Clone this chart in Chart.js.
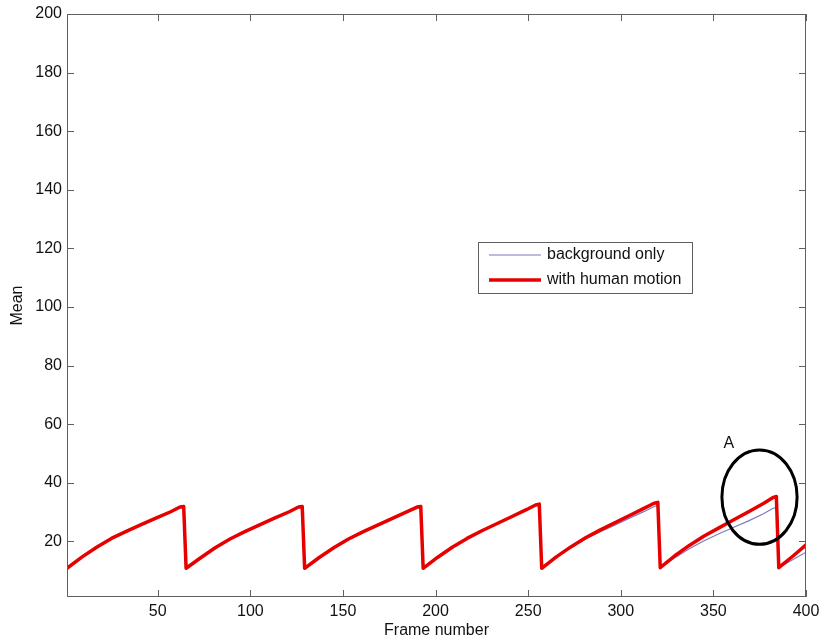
<!DOCTYPE html>
<html>
<head>
<meta charset="utf-8">
<script src="https://cdn.jsdelivr.net/npm/chart.js@4/dist/chart.umd.min.js"></script>
<style>
  html, body { margin: 0; padding: 0; background: #fff; }
  #wrap { width: 822px; height: 644px; }
</style>
</head>
<body>
<div id="wrap"><canvas id="chart" width="822" height="644"></canvas></div>
<script>
// ======== Data ========
const frames = [
  1, 9, 17, 25, 33, 41, 49, 57, 62, 64,
  65.3, 73, 81, 89, 97, 105, 113, 121, 126, 128,
  129.3, 137, 145, 153, 161, 169, 177, 185, 190, 192,
  193.3, 201, 209, 217, 225, 233, 241, 249, 254, 256,
  257.3, 265, 273, 281, 289, 297, 305, 313, 318, 320,
  321.3, 329, 337, 345, 353, 361, 369, 377, 382, 384,
  385.3, 393, 400
];
const backgroundOnly = [
  10.8, 14.6, 18.0, 21.0, 23.4, 25.7, 27.9, 30.1, 31.7, 31.9,
  10.8, 14.3, 17.8, 20.8, 23.3, 25.6, 27.9, 30.1, 31.7, 31.9,
  10.8, 14.4, 17.8, 20.8, 23.3, 25.6, 27.9, 30.2, 31.7, 31.9,
  10.8, 14.5, 18.0, 21.0, 23.6, 26.0, 28.4, 30.8, 32.4, 32.7,
  10.8, 14.5, 17.9, 20.8, 23.3, 25.6, 28.0, 30.3, 31.9, 32.2,
  11.0, 14.3, 17.5, 20.2, 22.6, 24.8, 27.0, 29.4, 31.2, 31.6,
  11.0, 13.8, 16.3
];
const withHumanMotion = [
  10.8, 14.6, 18.0, 21.0, 23.4, 25.7, 27.9, 30.1, 31.7, 31.9,
  10.8, 14.3, 17.8, 20.8, 23.3, 25.6, 27.9, 30.1, 31.7, 31.9,
  10.8, 14.4, 17.8, 20.8, 23.3, 25.6, 27.9, 30.2, 31.7, 31.9,
  10.8, 14.5, 18.0, 21.0, 23.6, 26.0, 28.4, 30.8, 32.4, 32.7,
  10.8, 14.6, 18.1, 21.2, 23.9, 26.4, 28.9, 31.4, 33.0, 33.3,
  11.0, 15.0, 18.6, 21.8, 24.6, 27.4, 30.1, 32.9, 34.9, 35.3,
  11.0, 15.0, 18.8
];
const xTicks = [50, 100, 150, 200, 250, 300, 350, 400];
const yTicks = [20, 40, 60, 80, 100, 120, 140, 160, 180, 200];
const seriesNames = ['background only', 'with human motion'];

const FONT = '"Liberation Sans", Arial, sans-serif';
const BLUE = '#7b7bc0';
const RED = '#e60000';
const AXIS = '#606060';

// ======== Frame, inward ticks, legend, ellipse ========
const decorPlugin = {
  id: 'decor',
  afterDraw(chart) {
    const { ctx, chartArea: a, scales: { x, y } } = chart;
    ctx.save();
    ctx.strokeStyle = AXIS;
    ctx.lineWidth = 1;
    ctx.strokeRect(a.left + 0.5, a.top + 0.5, a.right - a.left - 1, a.bottom - a.top - 1);
    const tl = 7;
    ctx.beginPath();
    xTicks.forEach(v => {
      const px = Math.round(x.getPixelForValue(v)) + 0.5;
      ctx.moveTo(px, a.bottom); ctx.lineTo(px, a.bottom - tl);
      ctx.moveTo(px, a.top); ctx.lineTo(px, a.top + tl);
    });
    yTicks.forEach(v => {
      const py = Math.round(y.getPixelForValue(v)) + 0.5;
      ctx.moveTo(a.left, py); ctx.lineTo(a.left + tl, py);
      ctx.moveTo(a.right, py); ctx.lineTo(a.right - tl, py);
    });
    ctx.stroke();

    // ellipse marking region A
    const cx = x.getPixelForValue(374.9), cy = y.getPixelForValue(35.1);
    const rx = x.getPixelForValue(374.9 + 20.3) - cx;
    const ry = cy - y.getPixelForValue(35.1 + 16.1);
    ctx.strokeStyle = '#000';
    ctx.lineWidth = 3;
    ctx.beginPath();
    ctx.ellipse(cx, cy, rx, ry, 0, 0, Math.PI * 2);
    ctx.stroke();
    ctx.fillStyle = '#111';
    ctx.font = '16px ' + FONT;
    ctx.textAlign = 'center';
    ctx.textBaseline = 'middle';
    ctx.fillText('A', x.getPixelForValue(358.3), y.getPixelForValue(53.3));

    // legend
    const lx = 478, ly = 242, lw = 214, lh = 51;
    ctx.fillStyle = '#fff';
    ctx.fillRect(lx, ly, lw, lh);
    ctx.strokeStyle = AXIS;
    ctx.lineWidth = 1;
    ctx.strokeRect(lx + 0.5, ly + 0.5, lw, lh);
    const rows = [[BLUE, 1.2, 255], [RED, 3.5, 280]];
    rows.forEach((r, i) => {
      ctx.strokeStyle = r[0];
      ctx.lineWidth = r[1];
      ctx.beginPath();
      ctx.moveTo(489, r[2]); ctx.lineTo(541, r[2]);
      ctx.stroke();
      ctx.fillStyle = '#111';
      ctx.textAlign = 'left';
      ctx.fillText(seriesNames[i], 547, r[2]);
    });
    ctx.restore();
  }
};

new Chart(document.getElementById('chart').getContext('2d'), {
  type: 'line',
  data: {
    datasets: [
      {
        label: seriesNames[1],
        data: frames.map((f, i) => ({ x: f, y: withHumanMotion[i] })),
        borderColor: RED, borderWidth: 3.5, pointRadius: 0, tension: 0, order: 0,
        borderJoinStyle: 'round'
      },
      {
        label: seriesNames[0],
        data: frames.map((f, i) => ({ x: f, y: backgroundOnly[i] })),
        borderColor: BLUE, borderWidth: 1.2, pointRadius: 0, tension: 0, order: 1
      }
    ]
  },
  options: {
    responsive: false,
    animation: false,
    layout: { padding: { top: 14, right: 16, left: 0, bottom: 0 } },
    plugins: { legend: { display: false }, tooltip: { enabled: false } },
    scales: {
      x: {
        type: 'linear', min: 1, max: 400,
        afterBuildTicks: s => { s.ticks = xTicks.map(v => ({ value: v })); },
        afterFit: s => { s.height = 47; s.paddingRight = 0; s.paddingLeft = 0; },
        grid: { display: false, drawTicks: false },
        border: { display: false },
        ticks: { padding: 5, color: '#111', font: { family: FONT, size: 16 } },
        title: { display: true, text: 'Frame number', color: '#111',
                 font: { family: FONT, size: 16 }, padding: { top: 4, bottom: 4 } }
      },
      y: {
        type: 'linear', min: 1, max: 200,
        afterBuildTicks: s => { s.ticks = yTicks.map(v => ({ value: v })); },
        afterFit: s => { s.width = 67; s.paddingTop = 0; s.paddingBottom = 0; },
        grid: { display: false, drawTicks: false },
        border: { display: false },
        ticks: { padding: 5, color: '#111', font: { family: FONT, size: 16 } },
        title: { display: true, text: 'Mean', color: '#111',
                 font: { family: FONT, size: 16 }, padding: { top: 8, bottom: 4 } }
      }
    }
  },
  plugins: [decorPlugin]
});
</script>
</body>
</html>
